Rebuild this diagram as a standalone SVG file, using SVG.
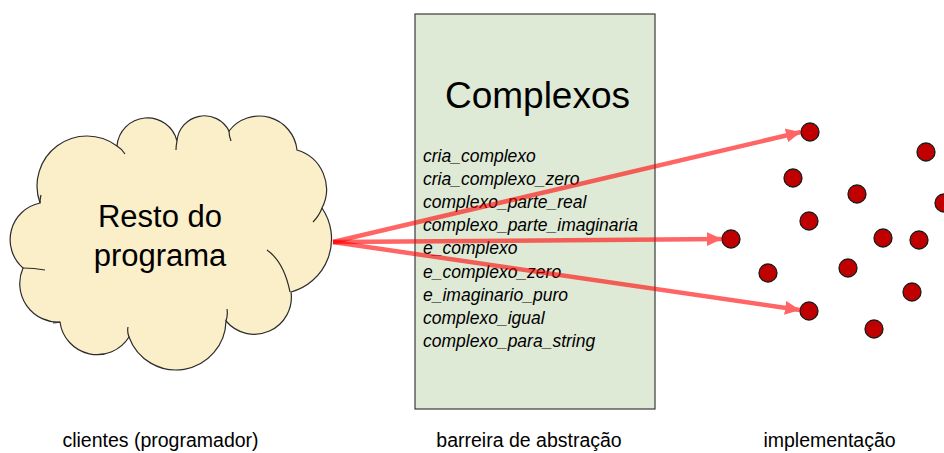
<svg xmlns="http://www.w3.org/2000/svg" width="944" height="453" viewBox="0 0 944 453">
<style>
  .cloud { fill: #fbefca; stroke: #2b2b2b; stroke-width: 1.2; }
  .inner { fill: none; stroke: #2b2b2b; stroke-width: 1.2; }
  .box { fill: #dfead6; stroke: #3a3a3a; stroke-width: 1.2; }
  .dot { fill: #c00000; stroke: #1a1a1a; stroke-width: 1.3; }
  .conn { stroke: #ff0000; stroke-width: 4.5; fill: none; opacity: 0.6; }
  .title { font-family: "Liberation Sans", Arial, sans-serif; font-size: 37px; fill: #000; text-anchor: middle; }
  .cloudtxt { font-family: "Liberation Sans", Arial, sans-serif; font-size: 31px; fill: #000; text-anchor: middle; }
  .fn { font-family: "Liberation Sans", Arial, sans-serif; font-size: 17.5px; font-style: italic; fill: #000; }
  .lbl { font-family: "Liberation Sans", Arial, sans-serif; font-size: 19.5px; fill: #000; text-anchor: middle; }
</style>
<defs>
  <marker id="ah" markerUnits="userSpaceOnUse" markerWidth="16" markerHeight="15" refX="15" refY="7" orient="auto">
    <path d="M0,0 L15,7 L0,14 Z" fill="#ff0000"/>
  </marker>
</defs>

<g id="cloud">
  <path class="cloud" d="M40,203 A50,50 0 0 1 117,146 A30.5,30.5 0 0 1 177,141 A27.5,27.5 0 0 1 229,131 A38,38 0 0 1 297,150 A41,41 0 0 1 322,208 A55,55 0 0 1 291,292 A37,37 0 0 1 226,321 A50,50 0 0 1 129,337 A37.5,37.5 0 0 1 60,322 A38.5,38.5 0 0 1 23,268 A37.5,37.5 0 0 1 40,203 Z"/>
  <path class="inner" d="M117,146 Q122,149 125,154 M177,141 Q176,146 176,150 M229,131 Q229,136 231,141 M322,208 Q319,216 313,222 M267,250 Q284,262 290,292 M226,321 Q228,315 227,309 M129,337 Q127,332 128,327 M60,322 Q56,323 53,323 M23,268 Q34,268 45,270 M40,203 Q40,199 41,195"/>
  <text class="cloudtxt" x="160" y="227">Resto do</text>
  <text class="cloudtxt" x="160" y="266">programa</text>
</g>

<g id="barreira">
  <rect class="box" x="415" y="14" width="240" height="395"/>
  <text class="title" x="537.5" y="108">Complexos</text>
  <text class="fn" x="423" y="162">cria_complexo</text>
  <text class="fn" x="423" y="185.1">cria_complexo_zero</text>
  <text class="fn" x="423" y="208.2">complexo_parte_real</text>
  <text class="fn" x="423" y="231.3">complexo_parte_imaginaria</text>
  <text class="fn" x="423" y="254.4">e_complexo</text>
  <text class="fn" x="423" y="277.5">e_complexo_zero</text>
  <text class="fn" x="423" y="300.6">e_imaginario_puro</text>
  <text class="fn" x="423" y="323.7">complexo_igual</text>
  <text class="fn" x="423" y="346.8">complexo_para_string</text>
</g>

<g id="implementacao">
  <circle class="dot" cx="810" cy="132" r="9"/>
  <circle class="dot" cx="926" cy="152" r="9"/>
  <circle class="dot" cx="793" cy="178" r="9"/>
  <circle class="dot" cx="857" cy="194" r="9"/>
  <circle class="dot" cx="944" cy="203" r="9"/>
  <circle class="dot" cx="809" cy="221" r="9"/>
  <circle class="dot" cx="731" cy="239" r="9"/>
  <circle class="dot" cx="883" cy="238" r="9"/>
  <circle class="dot" cx="919" cy="240" r="9"/>
  <circle class="dot" cx="768" cy="273" r="9"/>
  <circle class="dot" cx="848" cy="268" r="9"/>
  <circle class="dot" cx="912" cy="292" r="9"/>
  <circle class="dot" cx="809" cy="311" r="9"/>
  <circle class="dot" cx="874" cy="329" r="9"/>
</g>

<g id="connectors">
  <path class="conn" d="M333,242 L801,132" marker-end="url(#ah)"/>
  <path class="conn" d="M333,242 L722,239" marker-end="url(#ah)"/>
  <path class="conn" d="M333,242 L800,310" marker-end="url(#ah)"/>
</g>

<g id="labels">
  <text class="lbl" x="160.5" y="447">clientes (programador)</text>
  <text class="lbl" x="529" y="447">barreira de abstração</text>
  <text class="lbl" x="829.5" y="447">implementação</text>
</g>
</svg>
